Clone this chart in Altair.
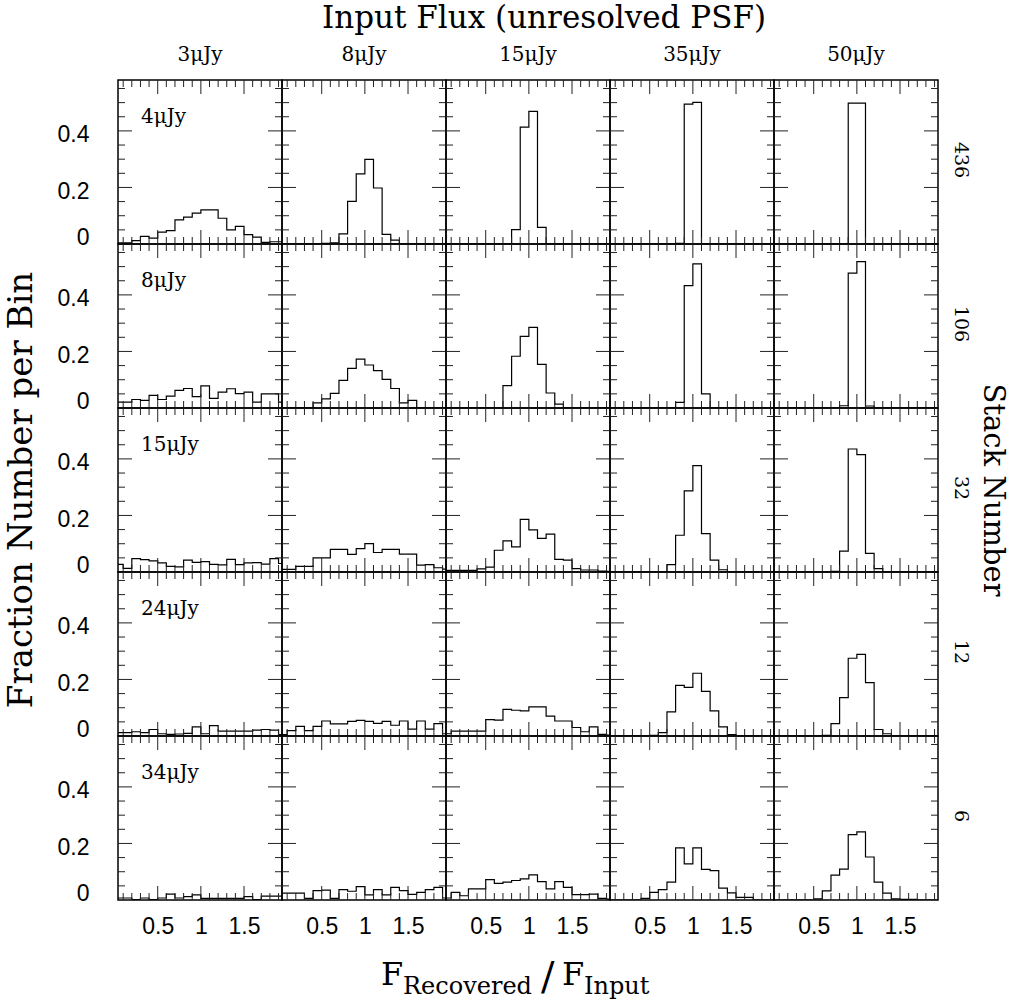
import altair as alt
import pandas as pd

# ---------------- data ----------------
input_flux = ["3μJy", "8μJy", "15μJy", "35μJy", "50μJy"]      # columns
stack_flux = ["4μJy", "8μJy", "15μJy", "24μJy", "34μJy"]      # rows (label inside)
stack_number = ["436", "106", "32", "12", "6"]                 # rows (right label)

bin_left = [0.0, 0.1, 0.2, 0.3, 0.4, 0.5, 0.6, 0.7, 0.8, 0.9,
            1.0, 1.1, 1.2, 1.3, 1.4, 1.5, 1.6, 1.7, 1.8, 1.9]
bin_end = 2.0

x_major = [0.5, 1.0, 1.5]
x_minor = [0.1, 0.2, 0.3, 0.4, 0.6, 0.7, 0.8, 0.9, 1.1, 1.2, 1.3, 1.4, 1.6, 1.7, 1.8, 1.9]
y_major = [0.2, 0.4]
y_minor = [0.05, 0.1, 0.15, 0.25, 0.3, 0.35, 0.45, 0.5, 0.55]
y_labels = [0.0, 0.2, 0.4]

# stack 436
h436_3 = [0.004, 0.004, 0.012, 0.027, 0.021, 0.042, 0.047, 0.085, 0.095, 0.109, 0.121, 0.121, 0.091, 0.050, 0.062, 0.033, 0.024, 0.006, 0.008, 0.008]
h436_8 = [0, 0, 0, 0, 0, 0.002, 0.004, 0.036, 0.151, 0.248, 0.299, 0.198, 0.034, 0.014, 0, 0, 0, 0, 0, 0]
h436_15 = [0, 0, 0, 0, 0, 0, 0, 0, 0.051, 0.413, 0.469, 0.059, 0, 0, 0, 0, 0, 0, 0, 0]
h436_35 = [0, 0, 0, 0, 0, 0, 0, 0, 0.002, 0.495, 0.501, 0, 0, 0, 0, 0, 0, 0, 0, 0]
h436_50 = [0, 0, 0, 0, 0, 0, 0, 0, 0, 0.498, 0.498, 0, 0, 0, 0, 0, 0, 0, 0, 0]
# stack 106
h106_3 = [0.021, 0.021, 0.030, 0.027, 0.045, 0.030, 0.042, 0.062, 0.069, 0.040, 0.078, 0.034, 0.056, 0.068, 0.051, 0.056, 0.021, 0.050, 0.050, 0.021]
h106_8 = [0, 0, 0, 0, 0.018, 0.032, 0.052, 0.098, 0.140, 0.173, 0.152, 0.132, 0.101, 0.069, 0.018, 0.027, 0, 0, 0, 0]
h106_15 = [0, 0, 0, 0, 0, 0, 0, 0.079, 0.183, 0.253, 0.285, 0.154, 0.053, 0.014, 0, 0, 0, 0, 0, 0]
h106_35 = [0, 0, 0, 0, 0, 0, 0, 0, 0.020, 0.433, 0.510, 0.050, 0, 0, 0, 0, 0, 0, 0, 0]
h106_50 = [0, 0, 0, 0, 0, 0, 0, 0, 0.008, 0.477, 0.518, 0.007, 0, 0, 0, 0, 0, 0, 0, 0]
# stack 32
h32_3 = [0.027, 0.013, 0.047, 0.044, 0.039, 0.032, 0.020, 0.018, 0.042, 0.034, 0.037, 0.027, 0.025, 0.045, 0.026, 0.032, 0.033, 0.028, 0.047, 0.030]
h32_8 = [0.009, 0.009, 0.020, 0.020, 0.050, 0.050, 0.080, 0.080, 0.062, 0.083, 0.100, 0.069, 0.080, 0.080, 0.063, 0.063, 0.024, 0.026, 0.015, 0.010]
h32_15 = [0.006, 0.006, 0.006, 0.006, 0.011, 0.017, 0.077, 0.110, 0.089, 0.186, 0.149, 0.119, 0.134, 0.045, 0.042, 0.012, 0.007, 0.007, 0.003, 0.002]
h32_35 = [0, 0, 0, 0, 0, 0, 0, 0.026, 0.130, 0.287, 0.376, 0.136, 0.042, 0.008, 0, 0, 0, 0, 0, 0]
h32_50 = [0, 0, 0, 0, 0, 0, 0, 0.002, 0.074, 0.435, 0.415, 0.066, 0.012, 0, 0, 0, 0, 0, 0, 0]
# stack 12
h12_3 = [0.012, 0.012, 0.015, 0.012, 0.023, 0.008, 0.006, 0.007, 0.009, 0.032, 0.008, 0.037, 0.017, 0.017, 0.017, 0.017, 0.021, 0.023, 0.021, 0.005]
h12_8 = [0.005, 0.019, 0.034, 0.019, 0.034, 0.053, 0.043, 0.043, 0.052, 0.055, 0.052, 0.045, 0.052, 0.038, 0.053, 0.024, 0.053, 0.024, 0.044, 0.008]
h12_15 = [0.008, 0.017, 0.017, 0.017, 0.017, 0.058, 0.056, 0.094, 0.091, 0.089, 0.103, 0.103, 0.070, 0.053, 0.053, 0.030, 0.015, 0.032, 0.006, 0.003]
h12_35 = [0, 0, 0, 0, 0, 0.002, 0.012, 0.085, 0.179, 0.172, 0.222, 0.158, 0.089, 0.032, 0.005, 0, 0, 0, 0, 0]
h12_50 = [0, 0, 0, 0, 0, 0, 0.002, 0.044, 0.136, 0.275, 0.289, 0.189, 0.023, 0.008, 0, 0, 0, 0, 0, 0]
# stack 6
h6_3 = [0.007, 0.007, 0.001, 0.007, 0.001, 0.007, 0.021, 0.007, 0.012, 0.018, 0.006, 0.006, 0.006, 0.006, 0.006, 0.012, 0.001, 0.014, 0.014, 0.014]
h6_8 = [0.024, 0.024, 0.024, 0.006, 0.033, 0.035, 0.006, 0.037, 0.031, 0.047, 0.018, 0.037, 0.018, 0.045, 0.033, 0.020, 0.027, 0.037, 0.045, 0.007]
h6_15 = [0.007, 0.027, 0.015, 0.039, 0.039, 0.072, 0.059, 0.063, 0.069, 0.075, 0.089, 0.065, 0.039, 0.065, 0.045, 0.019, 0.019, 0.021, 0.006, 0.003]
h6_35 = [0, 0, 0, 0, 0.006, 0.027, 0.037, 0.063, 0.184, 0.128, 0.184, 0.108, 0.104, 0.042, 0.025, 0.009, 0.009, 0, 0, 0]
h6_50 = [0, 0, 0, 0, 0, 0.004, 0.032, 0.088, 0.109, 0.231, 0.241, 0.152, 0.063, 0.024, 0.004, 0.002, 0.002, 0, 0, 0]

title_text = "Input Flux (unresolved PSF)"
ytitle_text = "Fraction Number per Bin"
rtitle_text = "Stack Number"
xtitle_parts = ["F", "Recovered", "/", "F", "Input"]

hist = [
    [h436_3, h436_8, h436_15, h436_35, h436_50],
    [h106_3, h106_8, h106_15, h106_35, h106_50],
    [h32_3, h32_8, h32_15, h32_35, h32_50],
    [h12_3, h12_8, h12_15, h12_35, h12_50],
    [h6_3, h6_8, h6_15, h6_35, h6_50],
]

# ---------------- styling ----------------
W, H = 164, 164
SERIF = "DejaVu Serif"
SANS = "Liberation Sans"
xscale = alt.Scale(domain=[0.04, 1.94], nice=False, zero=False)
yscale = alt.Scale(domain=[0.0, 0.58], nice=False, zero=False)


def xaxis(bottom):
    if not bottom:
        return None
    return alt.Axis(values=x_major, format="~g", ticks=False, tickSize=0, domain=False,
                    grid=False, labelFont=SANS, labelFontSize=23, labelColor="black",
                    labelPadding=15, labelFlush=False, title=None)


def yaxis(left):
    if not left:
        return None
    return alt.Axis(values=y_labels, format="~g", ticks=False, tickSize=0, domain=False,
                    grid=False, labelFont=SANS, labelFontSize=23, labelColor="black",
                    labelPadding=29, title=None,
                    labelOffset={"condition": {"test": "datum.value === 0", "value": -7}, "value": 4})


def text_layer(s, x, y, size, font=SERIF, align="left", baseline="alphabetic", angle=0):
    kw = dict(font=font, fontSize=size, align=align, baseline=baseline, color="black")
    if angle:
        kw["angle"] = angle
    return alt.Chart(pd.DataFrame({"s": [s]})).mark_text(**kw).encode(
        text="s:N", x=alt.value(x), y=alt.value(y))


def panel(r, c):
    bottom, left = (r == 4), (c == 0)

    def X(f):
        return alt.X(f, type="quantitative", scale=xscale, axis=xaxis(bottom))

    def Y(f):
        return alt.Y(f, type="quantitative", scale=yscale, axis=yaxis(left))

    vals = hist[r][c]
    df = pd.DataFrame({"x": bin_left + [bin_end], "f": vals + [vals[-1]]})
    layers = [alt.Chart(df).mark_line(interpolate="step-after", color="black",
                                      strokeWidth=1.2, clip=True).encode(x=X("x"), y=Y("f"))]
    tick_style = dict(color="#222222", strokeWidth=1)
    for arr, L in [(x_major, 14), (x_minor, 7)]:
        d = pd.DataFrame({"t": arr})
        layers.append(alt.Chart(d).mark_rule(**tick_style).encode(
            x=X("t"), y=alt.value(H), y2=alt.value(H - L)))
        layers.append(alt.Chart(d).mark_rule(**tick_style).encode(
            x=X("t"), y=alt.value(0), y2=alt.value(L)))
    for arr, L in [(y_major, 14), (y_minor, 7)]:
        d = pd.DataFrame({"t": arr})
        layers.append(alt.Chart(d).mark_rule(**tick_style).encode(
            y=Y("t"), x=alt.value(0), x2=alt.value(L)))
        layers.append(alt.Chart(d).mark_rule(**tick_style).encode(
            y=Y("t"), x=alt.value(W), x2=alt.value(W - L)))

    if c == 0:
        layers.append(text_layer(stack_flux[r], 23, 43, 20))
    if r == 0:
        layers.append(text_layer(input_flux[c], W / 2, -19, 20, align="center"))
    if c == 4:
        layers.append(text_layer(stack_number[r], 187, 80, 19, align="center",
                                 baseline="middle", angle=90))
    if r == 0 and c == 2:
        layers.append(text_layer(title_text, 98, -52, 31, align="center"))
    if r == 2 and c == 0:
        layers.append(text_layer(ytitle_text, -96, 82, 34, align="center",
                                 baseline="middle", angle=270))
    if r == 2 and c == 4:
        layers.append(text_layer(rtitle_text, 219, 82, 29, align="center",
                                 baseline="middle", angle=90))
    if r == 4 and c == 2:
        layers.append(text_layer(xtitle_parts[0], -65, 249, 32))
        layers.append(text_layer(xtitle_parts[1], -43, 258, 24))
        layers.append(text_layer(xtitle_parts[2], 95, 254, 40))
        layers.append(text_layer(xtitle_parts[3], 116, 249, 32))
        layers.append(text_layer(xtitle_parts[4], 138, 258, 24))
    return alt.layer(*layers).properties(width=W, height=H)


panels = [panel(r, c) for r in range(5) for c in range(5)]

chart = alt.concat(*panels, columns=5, spacing=0, bounds="flush").properties(
    padding={"left": 4, "top": 2, "right": 8, "bottom": 0},
    background="white",
).configure_view(stroke="black", strokeWidth=1.5)

chart.save("out.html", embed_options={"renderer": "svg", "actions": False})
